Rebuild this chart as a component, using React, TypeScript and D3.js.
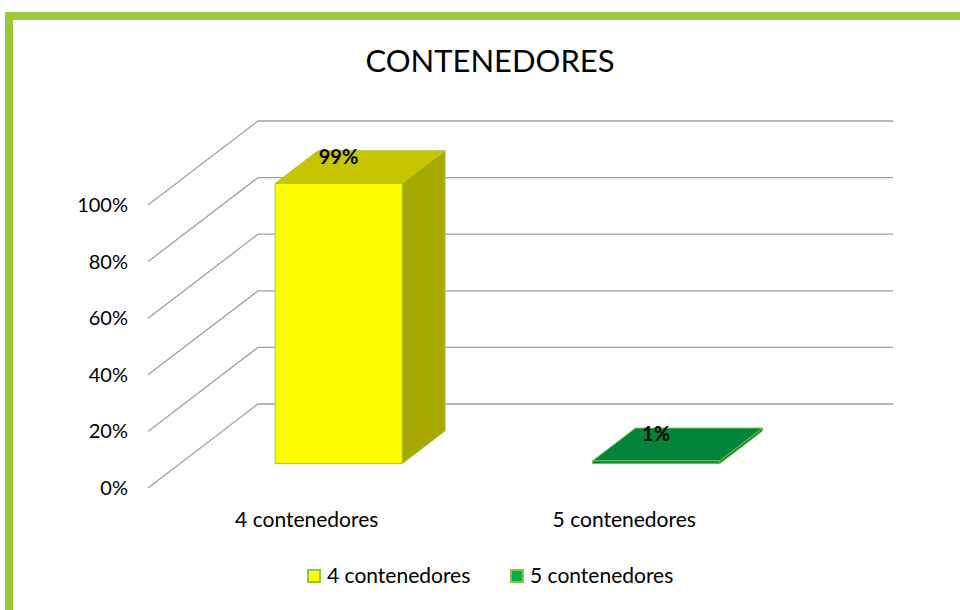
import React from 'react';
import * as d3 from 'd3';

const title = "CONTENEDORES";
const categories = ["4 contenedores", "5 contenedores"];
const values = [0.99, 0.01];
const valueLabels = ["99%", "1%"];
const ticks = [0, 0.2, 0.4, 0.6, 0.8, 1];
const faceColors = [
  { front: "#FFFF00", top: "#C8C400", side: "#A8A800", edge: "#A4C93A", legend: "#FFFF00" },
  { front: "#00873C", top: "#00853A", side: "#00853A", edge: "#7CC242", legend: "#00B050" },
];

const FONT = "Lato, 'Open Sans', sans-serif";

// front plane of the 3d box
const x0 = 148, x1 = 783;
const floorY = 488, topY = 205;
// how far the back wall sits
const depthX = 110, depthY = -84;

function App() {
  const y = d3.scaleLinear().domain([0, 1]).range([floorY, topY]);
  const x = d3.scaleBand().domain(categories).range([x0, x1]).paddingInner(0.6).paddingOuter(0.3);
  const fmt = d3.format(".0%");

  // project a point on front plane to depth d (0..1)
  const p = (px, py, d) => [px + d * depthX, py + d * depthY];
  const poly = pts => pts.map(q => q.join(",")).join(" ");

  const d0 = 0.29, d1 = 0.68;

  return (
    <div style={{ position: "absolute", left: 0, top: 0 }}>
      <svg width={960} height={610} style={{ display: "block" }}>
        <rect x={0} y={0} width={960} height={610} fill="#fff" />
        <rect x={9} y={16} width={1000} height={700} fill="none" stroke="#9ACA3C" strokeWidth={8} />

        <text x={490} y={72} textAnchor="middle" fontFamily={FONT} fontSize={31} fill="#000">{title}</text>

        {ticks.map(t => {
          const a = p(x0, y(t), 0);
          const b = p(x0, y(t), 1);
          const c = p(x1, y(t), 1);
          return (
            <g key={t}>
              <polyline points={poly([a, b, c])} fill="none" stroke="#A0A0A0" strokeWidth={1.3} />
              <text x={128} y={y(t) + 7} textAnchor="end" fontFamily={FONT} fontSize={20} fill="#000">{fmt(t)}</text>
            </g>
          );
        })}

        {categories.map((cat, i) => {
          const bl = x(cat), br = bl + x.bandwidth();
          const base = y(0), top = y(values[i]);
          const col = faceColors[i];
          const fbl = p(bl, base, d0), fbr = p(br, base, d0);
          const ftl = p(bl, top, d0), ftr = p(br, top, d0);
          const btl = p(bl, top, d1), btr = p(br, top, d1);
          const bbr = p(br, base, d1);
          const backMid = p(bl + x.bandwidth() / 2, top, d1);
          return (
            <g key={cat}>
              <polygon points={poly([fbr, ftr, btr, bbr])} fill={col.side} stroke={col.edge} strokeWidth={1} />
              <polygon points={poly([ftl, ftr, btr, btl])} fill={col.top} stroke={col.edge} strokeWidth={1} />
              <polygon points={poly([fbl, fbr, ftr, ftl])} fill={col.front} stroke={col.edge} strokeWidth={1} />
              <text x={backMid[0] - 43} y={backMid[1] + 13} textAnchor="middle" fontFamily={FONT} fontWeight="bold" fontSize={20} fill="#000">{valueLabels[i]}</text>
              <text x={bl + x.bandwidth() / 2} y={527} textAnchor="middle" fontFamily={FONT} fontSize={21} fill="#000">{cat}</text>
            </g>
          );
        })}

        {categories.map((cat, i) => {
          const lx = [307, 510][i];
          return (
            <g key={"lg" + cat}>
              <rect x={lx + 1} y={570} width={12} height={12} fill={faceColors[i].legend} stroke="#8DC63F" strokeWidth={2} />
              <text x={lx + 20} y={583} fontFamily={FONT} fontSize={21} fill="#000">{cat}</text>
            </g>
          );
        })}
      </svg>
    </div>
  );
}

export default App;
